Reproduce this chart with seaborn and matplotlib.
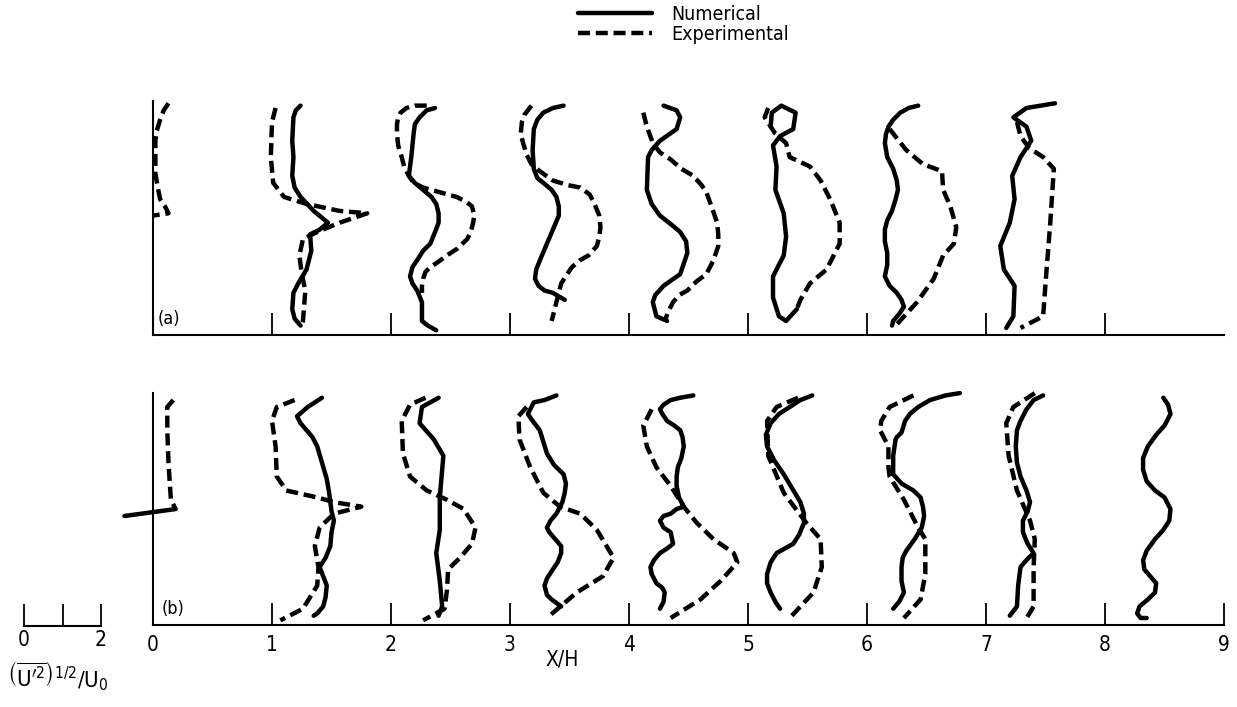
import matplotlib
matplotlib.use("Agg")
import matplotlib.pyplot as plt
from matplotlib.lines import Line2D
import pandas as pd
import seaborn as sns

sns.set_style("white")
plt.rcParams['font.family'] = ['DejaVu Sans']
plt.rcParams['font.stretch'] = 'condensed'
plt.rcParams['text.color'] = 'black'
plt.rcParams['axes.labelcolor'] = 'black'
plt.rcParams['xtick.color'] = 'black'
plt.rcParams['mathtext.fontset'] = 'dejavusans'

# ---------------- text / ticks ----------------
TICKS_B = list(range(10))
TICK_LABELS_B = [str(i) for i in TICKS_B]
TICKS_A = list(range(1, 9))
SCALE_TICKS = [0, 1, 2]
SCALE_LABELS = ['0', '', '2']
LEGEND_LABELS = ['Numerical', 'Experimental']
XLABEL = 'X/H'
SCALE_TITLE = r'$\left(\overline{\mathrm{U}^{\prime 2}}\right)^{1/2}/\mathrm{U}_0$'

# ---------------- panel (a) profiles : x in X/H, y = height fraction ----------------
A0_EXP_X = [0.13, 0.09, 0.06, 0.03, 0.02, 0.02, 0.04, 0.06, 0.10, 0.13, 0.00]
A0_EXP_Y = [0.99, 0.96, 0.92, 0.87, 0.83, 0.69, 0.63, 0.58, 0.55, 0.52, 0.51]

A1_EXP_X = [1.03, 1.00, 0.99, 1.01, 1.10, 1.29, 1.57, 1.80, 1.57, 1.38, 1.26, 1.23, 1.25, 1.28, 1.26, 1.25]
A1_EXP_Y = [0.97, 0.91, 0.76, 0.65, 0.59, 0.56, 0.53, 0.52, 0.48, 0.44, 0.41, 0.34, 0.26, 0.19, 0.06, 0.04]
A1_NUM_X = [1.24, 1.20, 1.18, 1.17, 1.18, 1.17, 1.19, 1.24, 1.35, 1.47, 1.40, 1.32, 1.33, 1.29, 1.22, 1.18, 1.17, 1.19, 1.24]
A1_NUM_Y = [0.98, 0.96, 0.93, 0.83, 0.76, 0.68, 0.63, 0.59, 0.53, 0.48, 0.45, 0.43, 0.36, 0.28, 0.22, 0.18, 0.11, 0.07, 0.04]

A2_EXP_X = [2.30, 2.20, 2.13, 2.08, 2.06, 2.05, 2.05, 2.06, 2.09, 2.11, 2.15, 2.19, 2.27, 2.41, 2.55,
            2.63, 2.68, 2.70, 2.69, 2.67, 2.64, 2.56, 2.47, 2.39, 2.33, 2.29, 2.27, 2.26, 2.26]
A2_EXP_Y = [0.98, 0.98, 0.97, 0.95, 0.93, 0.90, 0.86, 0.81, 0.76, 0.72, 0.68, 0.65, 0.63, 0.61, 0.59,
            0.57, 0.55, 0.51, 0.48, 0.44, 0.41, 0.37, 0.34, 0.31, 0.29, 0.27, 0.24, 0.21, 0.18]
A2_NUM_X = [2.37, 2.30, 2.24, 2.20, 2.19, 2.18, 2.17, 2.16, 2.15, 2.20, 2.27, 2.34, 2.38, 2.40,
            2.40, 2.37, 2.33, 2.27, 2.22, 2.18, 2.16, 2.18, 2.22, 2.26, 2.26, 2.31, 2.38]
A2_NUM_Y = [0.97, 0.96, 0.93, 0.90, 0.86, 0.81, 0.76, 0.72, 0.68, 0.65, 0.62, 0.59, 0.56, 0.52,
            0.48, 0.44, 0.39, 0.36, 0.32, 0.29, 0.25, 0.22, 0.19, 0.14, 0.06, 0.04, 0.02]

A3_EXP_X = [3.18, 3.12, 3.10, 3.09, 3.11, 3.14, 3.18, 3.25, 3.36, 3.49, 3.59, 3.67, 3.71, 3.75, 3.76,
            3.75, 3.73, 3.66, 3.59, 3.52, 3.48, 3.43, 3.41, 3.38, 3.35]
A3_EXP_Y = [0.98, 0.94, 0.91, 0.86, 0.82, 0.77, 0.73, 0.70, 0.66, 0.64, 0.63, 0.60, 0.56, 0.51, 0.46,
            0.42, 0.38, 0.34, 0.32, 0.29, 0.26, 0.22, 0.18, 0.12, 0.06]
A3_NUM_X = [3.45, 3.36, 3.28, 3.23, 3.20, 3.19, 3.20, 3.23, 3.28, 3.35, 3.39, 3.41, 3.41, 3.36,
            3.31, 3.26, 3.22, 3.21, 3.24, 3.29, 3.36, 3.46]
A3_NUM_Y = [0.98, 0.97, 0.95, 0.92, 0.88, 0.79, 0.71, 0.67, 0.65, 0.62, 0.59, 0.55, 0.51, 0.45,
            0.39, 0.33, 0.28, 0.24, 0.21, 0.19, 0.18, 0.15]

A4_EXP_X = [4.12, 4.15, 4.20, 4.26, 4.35, 4.44, 4.54, 4.61, 4.65, 4.70, 4.74, 4.75, 4.75, 4.71,
            4.65, 4.57, 4.49, 4.42, 4.37, 4.33, 4.30]
A4_EXP_Y = [0.95, 0.89, 0.82, 0.78, 0.75, 0.71, 0.68, 0.64, 0.61, 0.54, 0.48, 0.43, 0.38, 0.32,
            0.26, 0.23, 0.19, 0.17, 0.14, 0.10, 0.06]
A4_NUM_X = [4.29, 4.40, 4.43, 4.40, 4.26, 4.19, 4.16, 4.15, 4.19, 4.26, 4.36, 4.43, 4.48, 4.49, 4.43, 4.29, 4.22, 4.20, 4.23, 4.32]
A4_NUM_Y = [0.98, 0.96, 0.93, 0.88, 0.83, 0.79, 0.76, 0.62, 0.56, 0.51, 0.47, 0.44, 0.40, 0.35, 0.26, 0.21, 0.17, 0.14, 0.08, 0.06]

A5_EXP_X = [5.17, 5.14, 5.23, 5.32, 5.35, 5.52, 5.61, 5.69, 5.77, 5.77, 5.66, 5.52, 5.44, 5.41]
A5_EXP_Y = [0.97, 0.93, 0.86, 0.82, 0.76, 0.72, 0.66, 0.58, 0.48, 0.39, 0.28, 0.22, 0.15, 0.11]
A5_NUM_X = [5.19, 5.20, 5.28, 5.40, 5.38, 5.27, 5.21, 5.24, 5.23, 5.30, 5.32, 5.30, 5.21, 5.21, 5.26, 5.32, 5.41]
A5_NUM_Y = [0.89, 0.95, 0.98, 0.95, 0.88, 0.85, 0.81, 0.72, 0.62, 0.52, 0.42, 0.34, 0.25, 0.16, 0.08, 0.06, 0.11]

A6_EXP_X = [6.19, 6.33, 6.47, 6.63, 6.64, 6.70, 6.75, 6.73, 6.64, 6.56, 6.42, 6.24]
A6_EXP_Y = [0.88, 0.79, 0.73, 0.70, 0.62, 0.55, 0.46, 0.39, 0.34, 0.24, 0.14, 0.04]
A6_NUM_X = [6.43, 6.35, 6.28, 6.22, 6.18, 6.16, 6.15, 6.17, 6.22, 6.25, 6.26, 6.24, 6.21, 6.17,
            6.15, 6.15, 6.17, 6.17, 6.15, 6.19, 6.25, 6.29, 6.31, 6.27, 6.22, 6.21]
A6_NUM_Y = [0.98, 0.97, 0.95, 0.92, 0.89, 0.86, 0.82, 0.76, 0.71, 0.66, 0.62, 0.58, 0.53, 0.49,
            0.45, 0.40, 0.35, 0.30, 0.25, 0.21, 0.18, 0.15, 0.12, 0.09, 0.06, 0.04]

A7_EXP_X = [7.26, 7.29, 7.36, 7.48, 7.57, 7.54, 7.50, 7.48, 7.29]
A7_EXP_Y = [0.91, 0.85, 0.80, 0.76, 0.71, 0.48, 0.22, 0.08, 0.03]
A7_NUM_X = [7.58, 7.34, 7.23, 7.34, 7.38, 7.29, 7.22, 7.24, 7.20, 7.12, 7.15, 7.24, 7.23, 7.17]
A7_NUM_Y = [0.99, 0.97, 0.93, 0.89, 0.83, 0.76, 0.68, 0.58, 0.48, 0.38, 0.28, 0.21, 0.08, 0.03]

# ---------------- panel (b) profiles ----------------
B0_EXP_X = [0.17, 0.12, 0.12, 0.13, 0.15, 0.19]
B0_EXP_Y = [0.97, 0.94, 0.84, 0.70, 0.54, 0.50]
B0_NUM_X = [-0.24, 0.19]
B0_NUM_Y = [0.47, 0.50]

B1_EXP_X = [1.19, 1.04, 1.00, 1.03, 1.04, 1.12, 1.38, 1.52, 1.75, 1.52, 1.40, 1.36, 1.39, 1.38, 1.26, 1.07]
B1_EXP_Y = [0.97, 0.94, 0.88, 0.77, 0.64, 0.58, 0.55, 0.53, 0.51, 0.48, 0.42, 0.34, 0.25, 0.17, 0.07, 0.02]
B1_NUM_X = [1.42, 1.30, 1.21, 1.24, 1.29, 1.34, 1.38, 1.42, 1.46, 1.48, 1.49, 1.50, 1.52, 1.50,
            1.49, 1.45, 1.40, 1.43, 1.46, 1.45, 1.43, 1.38, 1.35]
B1_NUM_Y = [0.98, 0.94, 0.90, 0.87, 0.84, 0.81, 0.77, 0.70, 0.63, 0.57, 0.53, 0.49, 0.45, 0.40,
            0.34, 0.29, 0.25, 0.21, 0.17, 0.12, 0.08, 0.05, 0.04]

B2_EXP_X = [2.29, 2.16, 2.09, 2.10, 2.16, 2.30, 2.47, 2.61, 2.71, 2.68, 2.58, 2.48, 2.47, 2.45, 2.27]
B2_EXP_Y = [0.98, 0.95, 0.88, 0.74, 0.64, 0.58, 0.54, 0.50, 0.42, 0.35, 0.29, 0.24, 0.15, 0.07, 0.02]
B2_NUM_X = [2.40, 2.26, 2.24, 2.36, 2.44, 2.41, 2.41, 2.38, 2.41, 2.43, 2.40]
B2_NUM_Y = [0.98, 0.94, 0.87, 0.80, 0.73, 0.55, 0.41, 0.31, 0.19, 0.08, 0.04]

B3_EXP_X = [3.14, 3.07, 3.08, 3.17, 3.28, 3.42, 3.59, 3.73, 3.87, 3.78, 3.56, 3.31]
B3_EXP_Y = [0.94, 0.90, 0.80, 0.68, 0.57, 0.51, 0.48, 0.41, 0.29, 0.21, 0.14, 0.03]
B3_NUM_X = [3.39, 3.29, 3.20, 3.15, 3.19, 3.25, 3.28, 3.31, 3.37, 3.45, 3.47, 3.46, 3.44, 3.39,
            3.34, 3.31, 3.33, 3.38, 3.43, 3.43, 3.40, 3.36, 3.31, 3.29, 3.31, 3.35, 3.43]
B3_NUM_Y = [0.99, 0.97, 0.96, 0.91, 0.88, 0.84, 0.79, 0.74, 0.69, 0.65, 0.61, 0.57, 0.53, 0.48,
            0.45, 0.42, 0.40, 0.37, 0.34, 0.31, 0.27, 0.24, 0.20, 0.17, 0.13, 0.11, 0.08]

B4_EXP_X = [4.19, 4.12, 4.15, 4.23, 4.35, 4.46, 4.57, 4.71, 4.88, 4.91, 4.77, 4.60, 4.35]
B4_EXP_Y = [0.93, 0.86, 0.77, 0.68, 0.60, 0.51, 0.44, 0.37, 0.31, 0.27, 0.19, 0.11, 0.03]
B4_NUM_X = [4.54, 4.43, 4.35, 4.29, 4.26, 4.28, 4.32, 4.38, 4.43, 4.45, 4.46, 4.44, 4.41, 4.40,
            4.40, 4.42, 4.46, 4.40, 4.35, 4.29, 4.26, 4.29, 4.35, 4.37, 4.32, 4.26, 4.21, 4.18,
            4.19, 4.23, 4.28, 4.30, 4.29, 4.26]
B4_NUM_Y = [0.99, 0.98, 0.97, 0.95, 0.93, 0.91, 0.88, 0.86, 0.84, 0.81, 0.77, 0.72, 0.68, 0.64,
            0.60, 0.55, 0.51, 0.50, 0.48, 0.47, 0.45, 0.42, 0.40, 0.35, 0.33, 0.31, 0.28, 0.25,
            0.22, 0.18, 0.16, 0.14, 0.10, 0.07]

B5_EXP_X = [5.42, 5.24, 5.16, 5.17, 5.30, 5.49, 5.61, 5.62, 5.55, 5.35]
B5_EXP_Y = [0.98, 0.94, 0.88, 0.73, 0.57, 0.44, 0.37, 0.25, 0.14, 0.03]
B5_NUM_X = [5.54, 5.44, 5.35, 5.26, 5.19, 5.15, 5.16, 5.22, 5.30, 5.37, 5.44, 5.47, 5.47, 5.43,
            5.38, 5.31, 5.24, 5.19, 5.16, 5.16, 5.19, 5.23, 5.27]
B5_NUM_Y = [0.99, 0.97, 0.94, 0.91, 0.87, 0.82, 0.77, 0.71, 0.65, 0.59, 0.53, 0.48, 0.44, 0.39,
            0.35, 0.33, 0.31, 0.27, 0.22, 0.18, 0.14, 0.10, 0.07]

B6_EXP_X = [6.39, 6.19, 6.12, 6.11, 6.18, 6.18, 6.19, 6.31, 6.43, 6.49, 6.49, 6.45, 6.31]
B6_EXP_Y = [0.99, 0.94, 0.88, 0.84, 0.77, 0.68, 0.64, 0.54, 0.42, 0.37, 0.22, 0.11, 0.03]
B6_NUM_X = [6.78, 6.66, 6.53, 6.43, 6.36, 6.32, 6.29, 6.25, 6.24, 6.22, 6.22, 6.29, 6.39, 6.45,
            6.47, 6.48, 6.46, 6.40, 6.33, 6.30, 6.29, 6.29, 6.31, 6.27, 6.22]
B6_NUM_Y = [1.00, 0.99, 0.97, 0.94, 0.91, 0.88, 0.83, 0.81, 0.80, 0.73, 0.65, 0.61, 0.58, 0.55,
            0.51, 0.47, 0.42, 0.37, 0.32, 0.29, 0.25, 0.19, 0.14, 0.10, 0.07]

B7_EXP_X = [7.41, 7.23, 7.17, 7.19, 7.26, 7.37, 7.41, 7.40, 7.40, 7.33]
B7_EXP_Y = [1.00, 0.94, 0.87, 0.73, 0.58, 0.45, 0.37, 0.25, 0.08, 0.02]
B7_NUM_X = [7.48, 7.40, 7.34, 7.29, 7.26, 7.25, 7.26, 7.29, 7.34, 7.37, 7.35, 7.31, 7.31, 7.35,
            7.40, 7.34, 7.29, 7.27, 7.26, 7.20]
B7_NUM_Y = [0.99, 0.97, 0.93, 0.88, 0.84, 0.77, 0.70, 0.64, 0.58, 0.53, 0.49, 0.45, 0.40, 0.35,
            0.31, 0.28, 0.25, 0.17, 0.08, 0.04]

B8_NUM_X = [8.49, 8.53, 8.55, 8.50, 8.43, 8.36, 8.32, 8.32, 8.35, 8.42, 8.50, 8.55, 8.54, 8.49,
            8.42, 8.35, 8.32, 8.33, 8.38, 8.43, 8.42, 8.36, 8.29, 8.27, 8.30, 8.35]
B8_NUM_Y = [0.98, 0.95, 0.91, 0.86, 0.82, 0.77, 0.72, 0.67, 0.62, 0.58, 0.55, 0.50, 0.45, 0.41,
            0.37, 0.32, 0.28, 0.24, 0.21, 0.18, 0.14, 0.11, 0.08, 0.05, 0.03, 0.03]

PANEL_A = [
    ('Experimental', A0_EXP_X, A0_EXP_Y),
    ('Experimental', A1_EXP_X, A1_EXP_Y), ('Numerical', A1_NUM_X, A1_NUM_Y),
    ('Experimental', A2_EXP_X, A2_EXP_Y), ('Numerical', A2_NUM_X, A2_NUM_Y),
    ('Experimental', A3_EXP_X, A3_EXP_Y), ('Numerical', A3_NUM_X, A3_NUM_Y),
    ('Experimental', A4_EXP_X, A4_EXP_Y), ('Numerical', A4_NUM_X, A4_NUM_Y),
    ('Experimental', A5_EXP_X, A5_EXP_Y), ('Numerical', A5_NUM_X, A5_NUM_Y),
    ('Experimental', A6_EXP_X, A6_EXP_Y), ('Numerical', A6_NUM_X, A6_NUM_Y),
    ('Experimental', A7_EXP_X, A7_EXP_Y), ('Numerical', A7_NUM_X, A7_NUM_Y),
]
PANEL_B = [
    ('Experimental', B0_EXP_X, B0_EXP_Y), ('Numerical', B0_NUM_X, B0_NUM_Y),
    ('Experimental', B1_EXP_X, B1_EXP_Y), ('Numerical', B1_NUM_X, B1_NUM_Y),
    ('Experimental', B2_EXP_X, B2_EXP_Y), ('Numerical', B2_NUM_X, B2_NUM_Y),
    ('Experimental', B3_EXP_X, B3_EXP_Y), ('Numerical', B3_NUM_X, B3_NUM_Y),
    ('Experimental', B4_EXP_X, B4_EXP_Y), ('Numerical', B4_NUM_X, B4_NUM_Y),
    ('Experimental', B5_EXP_X, B5_EXP_Y), ('Numerical', B5_NUM_X, B5_NUM_Y),
    ('Experimental', B6_EXP_X, B6_EXP_Y), ('Numerical', B6_NUM_X, B6_NUM_Y),
    ('Experimental', B7_EXP_X, B7_EXP_Y), ('Numerical', B7_NUM_X, B7_NUM_Y),
    ('Numerical', B8_NUM_X, B8_NUM_Y),
]


def to_frame(curves):
    rows = []
    for cid, (kind, xs, ys) in enumerate(curves):
        for i, (x, y) in enumerate(zip(xs, ys)):
            rows.append(dict(curve=cid, kind=kind, order=i, x=x, y=y))
    return pd.DataFrame(rows)


LW = 3.2
DASH = (2.7, 1.3)
DASHES = {'Numerical': '', 'Experimental': DASH}

fig = plt.figure(figsize=(12.37, 7.07), dpi=100)
ax_a = fig.add_axes([0.1237, 0.5262, 0.8658, 0.331])
ax_b = fig.add_axes([0.1237, 0.1160, 0.8658, 0.328])

for ax, curves in ((ax_a, PANEL_A), (ax_b, PANEL_B)):
    df = to_frame(curves)
    sns.lineplot(data=df, x='x', y='y', units='curve', style='kind',
                 estimator=None, sort=False, dashes=DASHES, color='black',
                 linewidth=LW, legend=False, ax=ax, clip_on=False,
                 solid_capstyle='round', solid_joinstyle='round',
                 dash_capstyle='butt', dash_joinstyle='round')
    ax.set_xlim(0, 9)
    ax.set_ylim(0, 1)
    ax.set_yticks([])
    ax.set_ylabel('')
    ax.set_xlabel('')
    for s in ('top', 'right'):
        ax.spines[s].set_visible(False)
    for s in ('left', 'bottom'):
        ax.spines[s].set_color('black')
        ax.spines[s].set_linewidth(1.5)
    ax.set_facecolor('none')

ax_a.set_xticks(TICKS_A)
ax_a.tick_params(axis='x', direction='in', length=16, width=1.3, color='black',
                 labelbottom=False, bottom=True)
ax_b.set_xticks(TICKS_B)
ax_b.set_xticklabels(TICK_LABELS_B)
ax_b.tick_params(axis='x', direction='in', length=16, width=1.3, color='black',
                 labelcolor='black', labelsize=15, pad=7, bottom=True)
ax_b.set_xlabel(XLABEL, fontsize=15, color='black')
ax_b.xaxis.set_label_coords(0.382, -0.105)

ax_a.text(0.04, 0.03, '(a)', fontsize=13, ha='left', va='bottom', color='black')
ax_b.text(0.07, 0.03, '(b)', fontsize=13, ha='left', va='bottom', color='black')

# scale bar for u' profiles
ax_s = fig.add_axes([24 / 1237, 1 - 626 / 707, 77 / 1237, 0.03])
ax_s.set_xlim(SCALE_TICKS[0], SCALE_TICKS[-1])
ax_s.set_ylim(0, 1)
ax_s.set_yticks([])
ax_s.set_xticks(SCALE_TICKS)
ax_s.set_xticklabels(SCALE_LABELS)
ax_s.tick_params(axis='x', direction='in', length=16, width=1.3, color='black',
                 labelcolor='black', labelsize=15, pad=3, bottom=True)
for s in ('top', 'right', 'left'):
    ax_s.spines[s].set_visible(False)
ax_s.spines['bottom'].set_linewidth(1.5)
ax_s.spines['bottom'].set_color('black')
ax_s.set_facecolor('none')
fig.text(58 / 1237, 1 - 676 / 707, SCALE_TITLE, ha='center', va='center', fontsize=16, color='black')

handles = [Line2D([], [], color='black', lw=LW),
           Line2D([], [], color='black', lw=LW, linestyle=(0, DASH), dash_capstyle='butt')]
fig.legend(handles, LEGEND_LABELS, loc='upper left',
           bbox_to_anchor=(578 / 1237, 1 - 5 / 707), frameon=False, fontsize=14,
           handlelength=3.8, handletextpad=1.0, labelspacing=0.05,
           borderpad=0, borderaxespad=0, labelcolor='black')

fig.savefig('out.png', dpi=100, facecolor='white')
